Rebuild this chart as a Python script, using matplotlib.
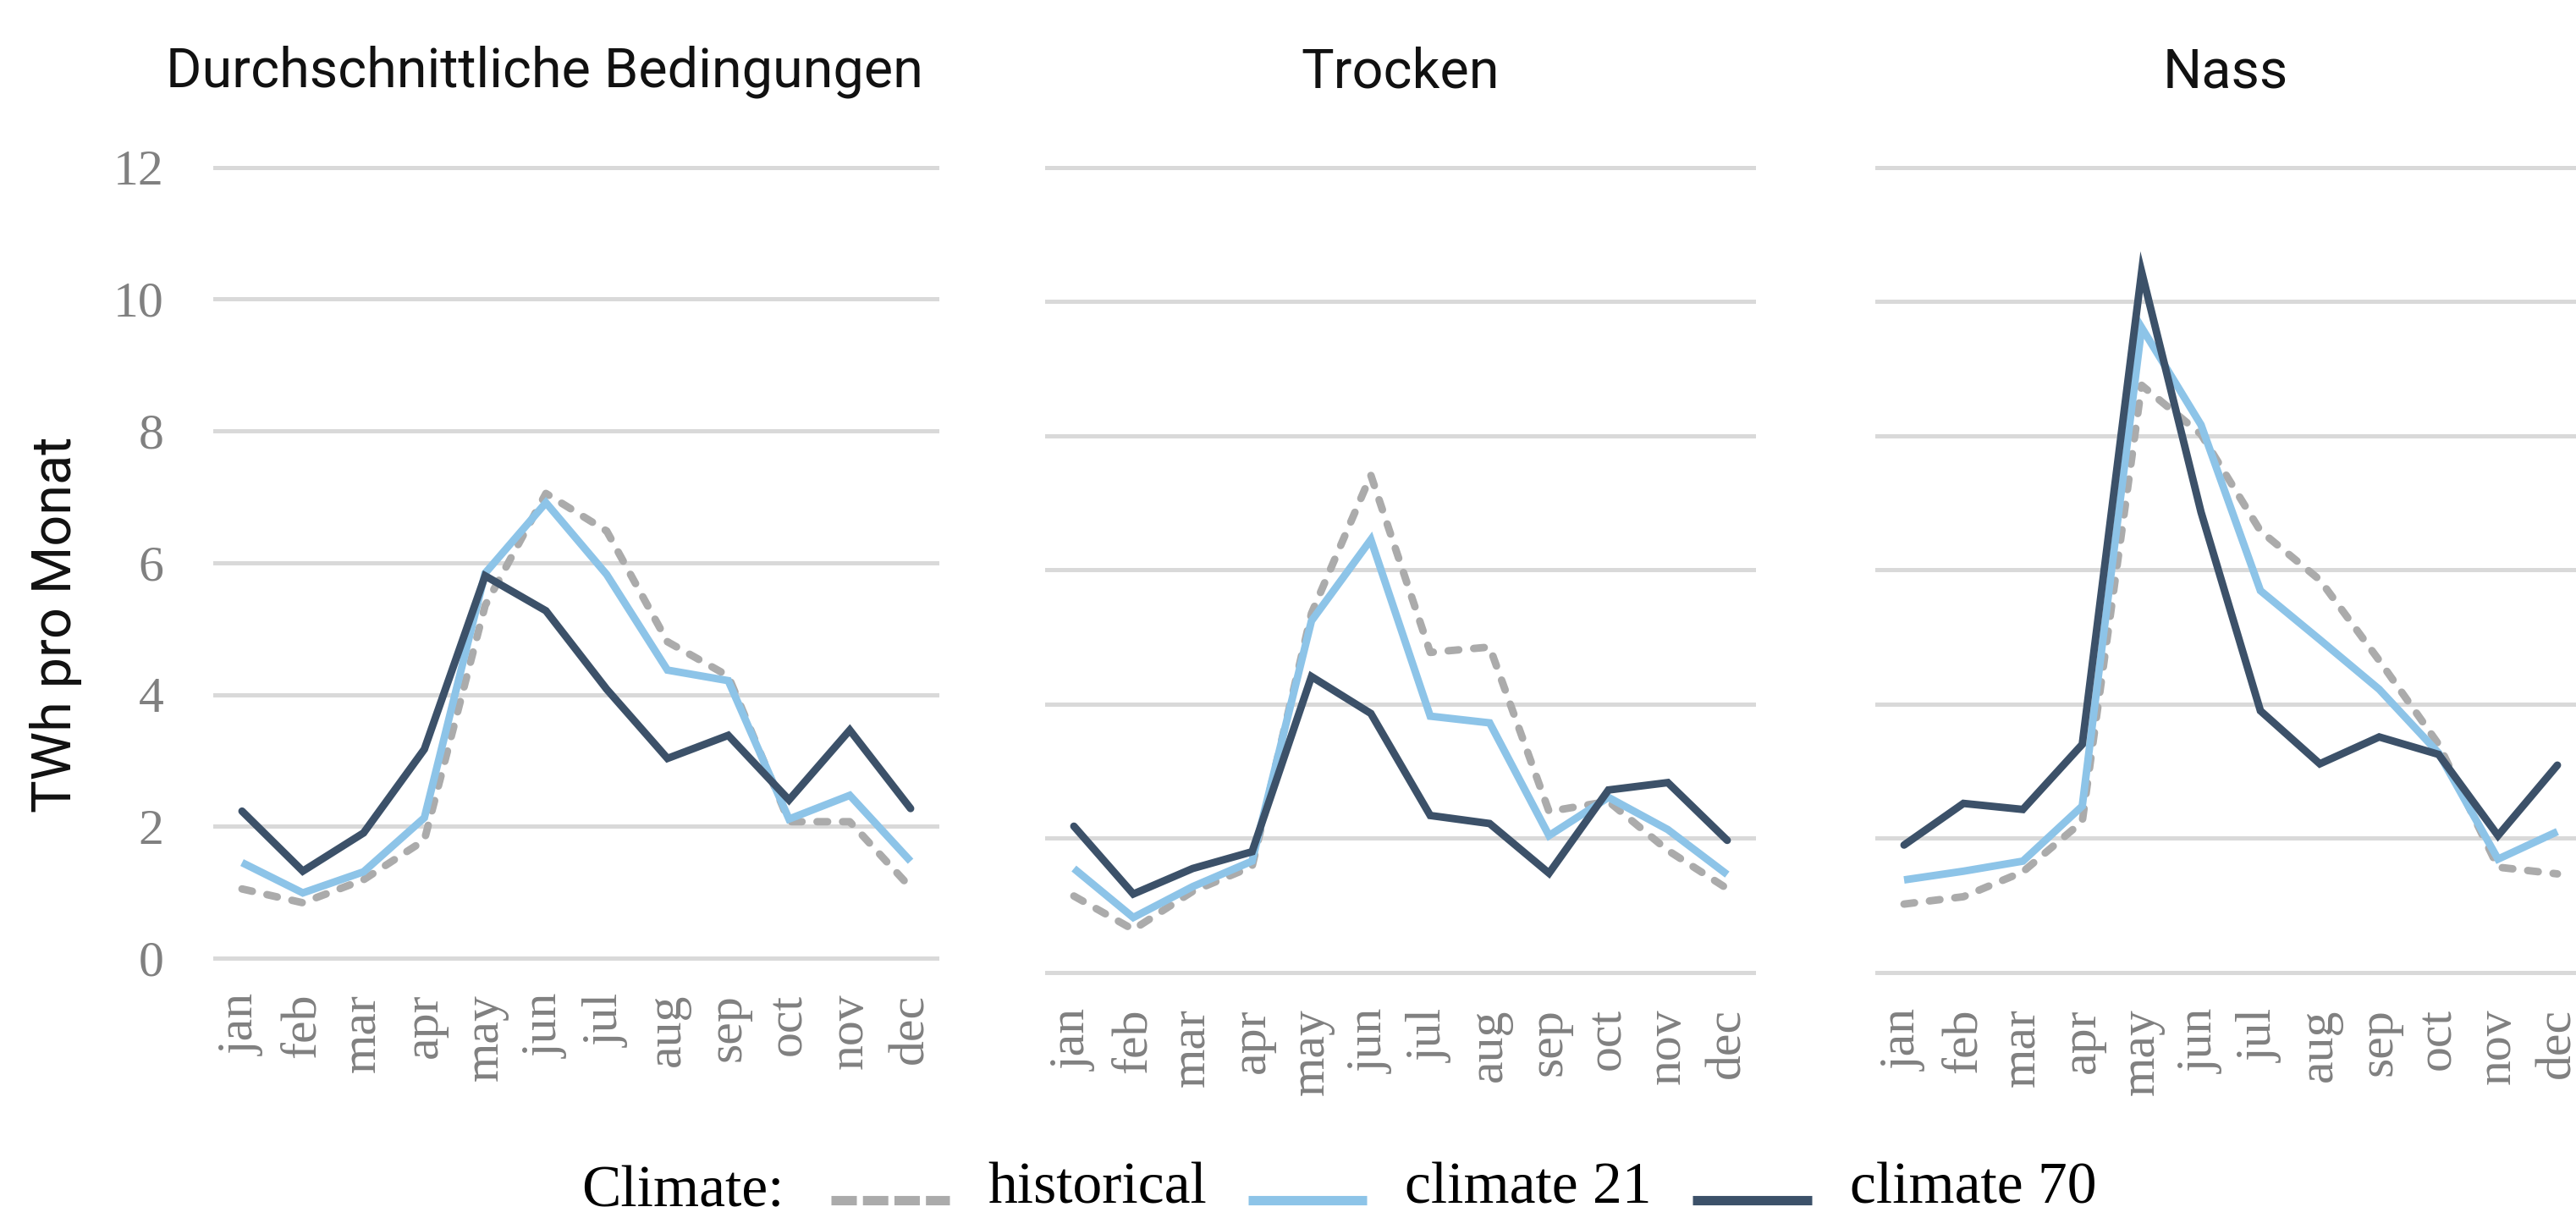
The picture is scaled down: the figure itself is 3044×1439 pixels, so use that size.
import matplotlib
matplotlib.use("Agg")
import matplotlib.pyplot as plt
from matplotlib.lines import Line2D
from matplotlib.legend_handler import HandlerLine2D

# ---------------- data ----------------
months = ["jan", "feb", "mar", "apr", "may", "jun",
          "jul", "aug", "sep", "oct", "nov", "dec"]
panel_titles = ["Durchschnittliche Bedingungen", "Trocken", "Nass"]
series_labels = ["historical", "climate 21", "climate 70"]

hist_avg = [1.05, 0.84, 1.19, 1.79, 5.35, 7.05, 6.48, 4.80, 4.28, 2.07, 2.07, 1.07]
c21_avg = [1.45, 0.99, 1.31, 2.13, 5.84, 6.91, 5.82, 4.37, 4.21, 2.11, 2.47, 1.47]
c70_avg = [2.23, 1.32, 1.90, 3.17, 5.80, 5.27, 4.08, 3.03, 3.38, 2.40, 3.46, 2.27]

hist_dry = [1.14, 0.64, 1.21, 1.58, 5.35, 7.41, 4.77, 4.85, 2.40, 2.55, 1.82, 1.25]
c21_dry = [1.55, 0.82, 1.28, 1.66, 5.24, 6.45, 3.82, 3.72, 2.04, 2.61, 2.13, 1.46]
c70_dry = [2.18, 1.17, 1.55, 1.80, 4.41, 3.86, 2.34, 2.22, 1.48, 2.72, 2.83, 1.97]

hist_wet = [1.02, 1.13, 1.50, 2.25, 8.75, 8.02, 6.58, 5.85, 4.65, 3.40, 1.57, 1.47]
c21_wet = [1.38, 1.51, 1.66, 2.48, 9.61, 8.16, 5.69, 4.96, 4.22, 3.27, 1.69, 2.10]
c70_wet = [1.90, 2.52, 2.43, 3.40, 10.44, 6.86, 3.90, 3.11, 3.51, 3.25, 2.04, 3.09]

panels_data = [
    [hist_avg, c21_avg, c70_avg],
    [hist_dry, c21_dry, c70_dry],
    [hist_wet, c21_wet, c70_wet],
]
y_ticks = [0, 2, 4, 6, 8, 10, 12]

# ---------------- style ----------------
W, H, DPI = 3044, 1439, 200
col_hist = "#ABABAB"
col_c21 = "#8DC4E8"
col_c70 = "#3C5169"
grid_col = "#D9D9D9"
tick_col = "#808080"
serif = ["Liberation Serif", "DejaVu Serif"]
sans = ["Roboto", "DejaVu Sans"]
LW = 3.2

fig = plt.figure(figsize=(W / DPI, H / DPI), dpi=DPI)

# pixel layout of each panel: (jan_px, dec_px, y0_px, y12_px)
layouts = [
    (286, 1076, 1132, 197.5),
    (1269, 2041, 1149, 197.5),
    (2250, 3022, 1149, 197.5),
]
title_x = [643, 1655, 2630]
xpad = 0.48
ypad = 0.5

for i, (data, (jp, dp, y0, y12), title) in enumerate(zip(panels_data, layouts, panel_titles)):
    step = (dp - jp) / 11.0
    left = jp - xpad * step
    right = dp + xpad * step
    unit = (y0 - y12) / 12.0
    top = y12 - ypad * unit
    bottom = y0 + ypad * unit
    ax = fig.add_axes([left / W, (H - bottom) / H, (right - left) / W, (bottom - top) / H])
    x = list(range(len(months)))
    hist, c21, c70 = data
    ax.plot(x, hist, color=col_hist, lw=LW, linestyle=(0, (1.4, 2.0)),
            dash_capstyle="round", zorder=3)
    ax.plot(x, c21, color=col_c21, lw=LW, solid_capstyle="butt",
            solid_joinstyle="miter", zorder=4)
    ax.plot(x, c70, color=col_c70, lw=LW, solid_capstyle="round",
            solid_joinstyle="miter", zorder=5)
    ax.set_xlim(-xpad, 11 + xpad)
    ax.set_ylim(-ypad, 12 + ypad)
    ax.set_xticks(x)
    ax.set_xticklabels(months, rotation=90, fontsize=21.5, color=tick_col,
                       family=serif)
    ax.set_yticks(y_ticks)
    if i == 0:
        ax.set_yticklabels([str(v) for v in y_ticks], fontsize=21.5, color=tick_col,
                           family=serif)
    else:
        ax.set_yticklabels([])
    ax.tick_params(axis="both", length=0)
    ax.tick_params(axis="x", pad=1)
    ax.tick_params(axis="y", pad=21)
    ax.grid(axis="y", color=grid_col, lw=1.8)
    ax.grid(axis="x", visible=False)
    ax.set_axisbelow(True)
    for s in ax.spines.values():
        s.set_visible(False)
    ax.patch.set_visible(False)
    fig.text(title_x[i] / W, (H - 103) / H, title, ha="center", va="baseline",
             fontsize=23.3, family=sans, color="#111111")

# y axis label
fig.text(66 / W, (H - 738) / H, "TWh pro Monat", rotation=90, ha="center",
         va="center", fontsize=23.3, family=sans, color="#111111")


class LowLineHandler(HandlerLine2D):
    """Legend key drawn near the text baseline, as in the reference."""
    def create_artists(self, legend, orig_handle, xdescent, ydescent, width,
                       height, fontsize, trans):
        arts = super().create_artists(legend, orig_handle, xdescent, ydescent,
                                      width, height, fontsize, trans)
        for a in arts:
            if isinstance(a, Line2D):
                a.set_ydata([v - 0.3 * fontsize for v in a.get_ydata()])
        return arts


# legend
fig.text(687 / W, (H - 1425) / H, "Climate:", ha="left", va="baseline",
         fontsize=25, family=serif, color="black")
handles = [
    Line2D([], [], color=col_hist, lw=4.0, linestyle=(0, (2.7, 0.65)),
           dash_capstyle="butt"),
    Line2D([], [], color=col_c21, lw=4.0, solid_capstyle="butt"),
    Line2D([], [], color=col_c70, lw=4.0, solid_capstyle="butt"),
]
leg = fig.legend(handles, series_labels, loc="center left",
                 bbox_to_anchor=(982 / W, (H - 1405) / H), ncol=3, frameon=False,
                 borderpad=0, borderaxespad=0, handlelength=2.02,
                 handletextpad=0.65, columnspacing=0.7,
                 prop={"family": serif, "size": 25},
                 handler_map={Line2D: LowLineHandler()})

fig.savefig("out.png", dpi=DPI)
